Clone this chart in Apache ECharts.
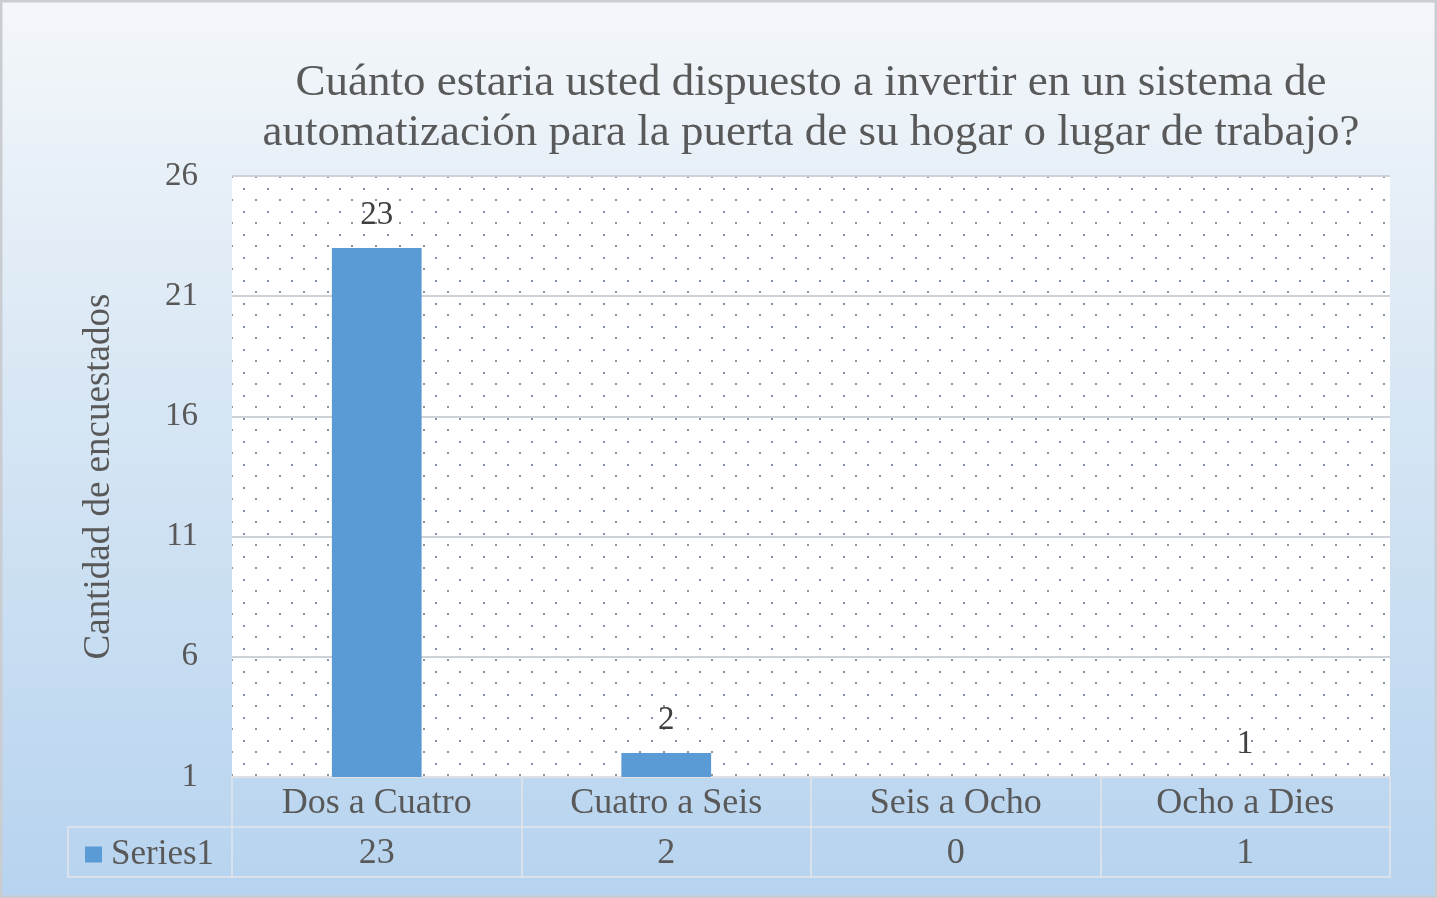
<!DOCTYPE html>
<html><head><meta charset="utf-8">
<script src="https://cdn.jsdelivr.net/npm/echarts@6/dist/echarts.min.js"></script>
<style>html,body{margin:0;padding:0;background:#fff;}#c{width:1437px;height:898px;}</style>
</head><body><div id="c"></div>
<script>
// ---- data ----
const titleLines = ['Cuánto estaria usted dispuesto a invertir en un sistema de', 'automatización para la puerta de su hogar o lugar de trabajo?'];
const categories = ['Dos a Cuatro', 'Cuatro a Seis', 'Seis a Ocho', 'Ocho a Dies'];
const seriesName = 'Series1';
const values = [23, 2, 0, 1];
const yMin = 1, yMax = 26, yInterval = 5;
const yAxisName = 'Cantidad de encuestados';

// ---- style ----
const FONT = '"Liberation Serif", "Times New Roman", serif';
const textColor = '#595959';
const tableLine = 'rgba(226,228,234,0.8)';
const GL = 232, GR = 1390, GT = 176, GB = 777;

// dot pattern for plot area
const pc = document.createElement('canvas');
pc.width = 24; pc.height = 23;
const ctx = pc.getContext('2d');
ctx.fillStyle = '#ffffff'; ctx.fillRect(0, 0, 24, 23);
ctx.fillStyle = '#8394a8';
ctx.fillRect(3, 4, 2, 2);
ctx.fillRect(15, 15, 2, 2);

const chart = echarts.init(document.getElementById('c'), null, {renderer: 'canvas'});
chart.setOption({
  backgroundColor: new echarts.graphic.LinearGradient(0, 0, 0, 1, [
    {offset: 0, color: '#f4f7fa'},
    {offset: 0.45, color: '#d7e6f4'},
    {offset: 1, color: '#b6d3ef'}
  ]),
  animation: false,
  title: {
    text: titleLines.join('\n'),
    left: (GL + GR) / 2, top: 58, textAlign: 'center', padding: 0,
    textStyle: {fontFamily: FONT, fontSize: 45, fontWeight: 'normal', color: textColor, lineHeight: 50}
  },
  legend: {
    data: [seriesName], left: 80, top: 832, itemWidth: 17, itemHeight: 16, icon: 'rect',
    textStyle: {fontFamily: FONT, fontSize: 35, color: textColor, padding: [0, 0, 0, 4]}
  },
  grid: {
    left: GL, right: 1437 - GR, top: GT, bottom: 898 - GB, show: true, borderWidth: 0,
    backgroundColor: {image: pc, repeat: 'repeat'}
  },
  xAxis: [
    {
      type: 'category', data: categories, position: 'bottom',
      axisLine: {lineStyle: {color: tableLine, width: 2}},
      axisTick: {show: true, length: 100, lineStyle: {color: tableLine, width: 2}},
      axisLabel: {fontFamily: FONT, fontSize: 36, color: textColor, margin: 9},
      splitLine: {show: false}
    },
    {
      type: 'category', data: values.map(String), position: 'bottom', offset: 50,
      axisLine: {lineStyle: {color: tableLine, width: 2}},
      axisTick: {show: false},
      axisLabel: {fontFamily: FONT, fontSize: 36, color: textColor, margin: 9}
    },
    {
      type: 'category', data: categories, position: 'bottom', offset: 100,
      axisLine: {lineStyle: {color: tableLine, width: 2}},
      axisTick: {show: false}, axisLabel: {show: false}
    }
  ],
  yAxis: {
    type: 'value', min: yMin, max: yMax, interval: yInterval,
    name: yAxisName, nameLocation: 'middle', nameGap: 114,
    nameTextStyle: {fontFamily: FONT, fontSize: 37, color: textColor},
    axisLine: {show: false}, axisTick: {show: false},
    axisLabel: {fontFamily: FONT, fontSize: 33, color: textColor, margin: 34},
    splitLine: {lineStyle: {color: '#cdd2d8', width: 2}}
  },
  series: [{
    name: seriesName, type: 'bar', xAxisIndex: 0, data: values, barWidth: '31%',
    itemStyle: {color: '#5b9bd5'},
    label: {
      show: true, position: 'top', distance: 16,
      fontFamily: FONT, fontSize: 33, color: '#404040',
      formatter: p => (p.value > 0 ? String(p.value) : '')
    }
  }],
  graphic: [
    {type: 'polyline', shape: {points: [[GL, 827], [68, 827], [68, 877], [GL, 877]]},
     style: {stroke: tableLine, lineWidth: 2, fill: null}, silent: true},
    {type: 'rect', shape: {x: 1, y: 1, width: 1435, height: 896},
     style: {fill: null, stroke: '#c9cdd2', lineWidth: 3}, silent: true}
  ]
});
</script>
</body></html>
